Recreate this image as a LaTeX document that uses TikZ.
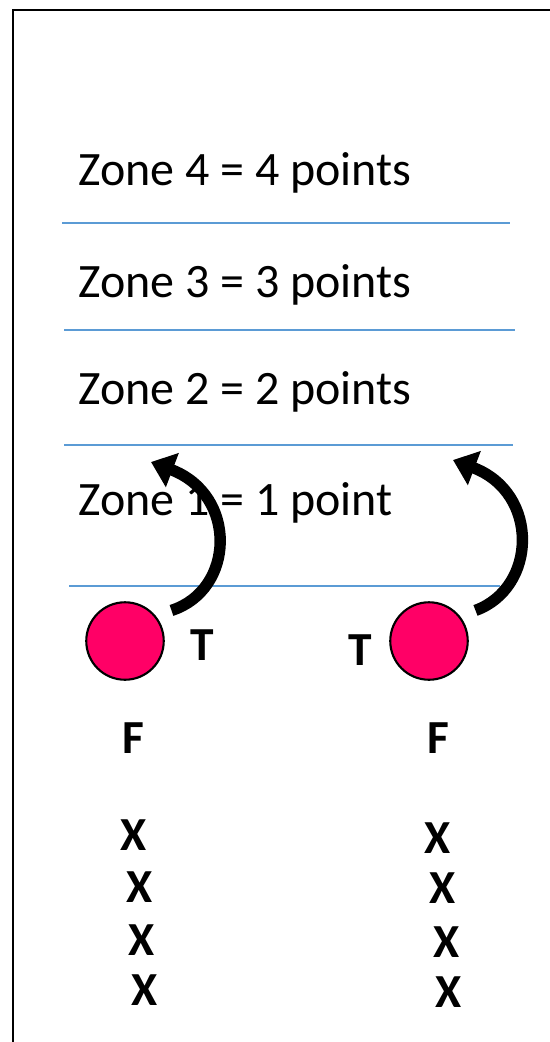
\documentclass[tikz,border=0pt]{standalone}
\usepackage{fontspec}
\setmainfont{Carlito}
\usetikzlibrary{arrows.meta}
\tikzset{>=latex}
\definecolor{zoneblue}{RGB}{91,155,213}
\definecolor{ballpink}{RGB}{255,0,102}
\tikzstyle{zoneline} = [line width = 0.7, color = zoneblue]
\tikzstyle{zonetext} = [%
					anchor = base west,
					inner sep = 0,
					font = \fontsize{27.3}{32}\selectfont]
\tikzstyle{player} = [%
					anchor = base,
					inner sep = 0,
					font = \fontsize{27}{32}\selectfont\bfseries]
\tikzstyle{ball} = [%
					circle,
					draw,
					line width = 1.2,
					fill = ballpink,
					minimum size = 1.55cm]
\tikzstyle{throw} = [%
					line width = 6.5,
					-{Triangle[width=20pt, length=13pt]}]

\begin{document}
\begin{tikzpicture}[x=0.02cm, y=-0.02cm]
	\useasboundingbox (0,0) rectangle (549,1042);

	% Frame
	\draw[line width = 0.9] (13,1080) |- (580,10);

	% Zone lines
	\foreach \y/\a/\b in {223/62/510, 330/64/515, 445/64/513, 586/69/500}
	{
		\draw[zoneline] (\a,\y) -- (\b,\y);
	}

	% Zone labels
	\foreach \n/\y in {4/185, 3/297, 2/404}
	{
		\node[zonetext] (zone\n) at (78,\y) {Zone \n{} = \n{} points};
	}
	\node[zonetext] (zone1) at (78,515) {Zone 1 = 1 point};

	% Balls
	\node[ball] (ballL) at (125,641) {};
	\node[ball] (ballR) at (429,641) {};

	% Players
	\node[player] (tL) at (202,660) {T};
	\node[player] (tR) at (360,665) {T};
	\node[player] (fL) at (133,753) {F};
	\node[player] (fR) at (438,753) {F};
	\foreach \i/\x/\y in {1/134/850, 2/140/902, 3/142/955, 4/145/1005}
	{
		\node[player] (xL\i) at (\x,\y) {X};
	}
	\foreach \i/\x/\y in {1/438/853, 2/443/903, 3/447/957, 4/449/1007}
	{
		\node[player] (xR\i) at (\x,\y) {X};
	}

	% Throws
	\coordinate (tipL) at (151,462);
	\coordinate (tipR) at (453,460);
	\draw[throw] ([shift={(16,-5)}]ballL.40) .. controls (235,590) and (238,495) .. (tipL);
	\draw[throw] ([shift={(16,-5)}]ballR.40) .. controls (537,588) and (540,493) .. (tipR);

\end{tikzpicture}
\end{document}
